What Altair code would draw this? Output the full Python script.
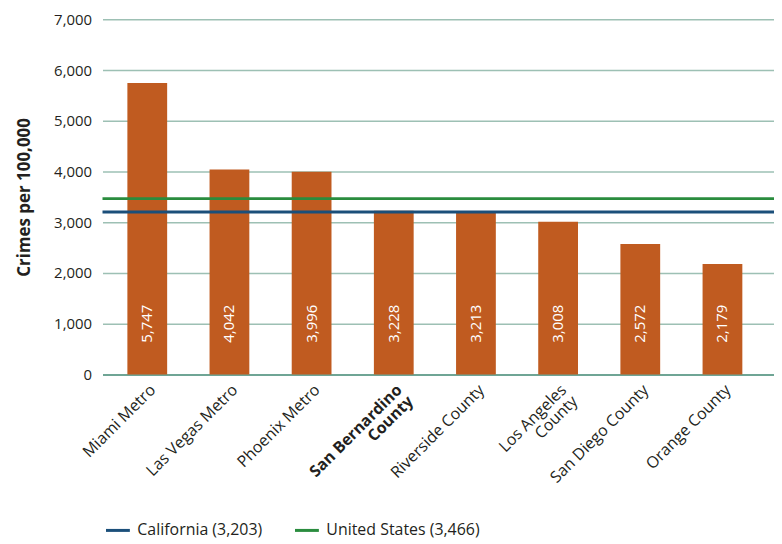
import altair as alt
import pandas as pd

categories = ["Miami Metro", "Las Vegas Metro", "Phoenix Metro", "San Bernardino County",
              "Riverside County", "Los Angeles County", "San Diego County", "Orange County"]
crime_rates = [5747, 4042, 3996, 3228, 3213, 3008, 2572, 2179]
ref_names = ["California (3,203)", "United States (3,466)"]
ref_values = [3203, 3466]
ref_colors = ["#1B4F7A", "#2A8C3E"]
y_ticks = [0, 1000, 2000, 3000, 4000, 5000, 6000, 7000]

bars_df = pd.DataFrame({"area": categories, "rate": crime_rates,
                        "label": [f"{v:,}" for v in crime_rates]})
ref_df = pd.DataFrame({"series": ref_names, "value": ref_values})

FONT = "Open Sans"
TXT = "#231F20"

x_enc = alt.X("area:N", sort=categories,
              scale=alt.Scale(paddingInner=0.516, paddingOuter=0.344, align=0.44),
              axis=alt.Axis(title=None, labelAngle=-45, labelAlign="right", labelBaseline="top",
                            labelFontSize=16, labelFont=FONT, labelColor=TXT, labelPadding=7,
                            labelLineHeight=16, ticks=False, domainColor="#6FA595", domainWidth=2,
                            grid=False,
                            labelExpr="datum.label == 'San Bernardino County' ? ['San Bernardino', 'County'] : datum.label == 'Los Angeles County' ? ['Los Angeles', 'County'] : datum.label",
                            labelFontWeight={"condition": {"test": "datum.value == 'San Bernardino County'", "value": "bold"}, "value": "normal"}))

y_scale = alt.Scale(domain=[0, 7000], nice=False)

bars = alt.Chart(bars_df).mark_bar(color="#C05B20").encode(
    x=x_enc,
    y=alt.Y("rate:Q", scale=y_scale,
            axis=alt.Axis(title="Crimes per 100,000", values=y_ticks, format=",d",
                          labelFontSize=15, labelFont=FONT, labelColor=TXT, labelPadding=11,
                          ticks=False, domain=False, gridColor="#9DC0B4", gridWidth=1.5,
                          titleFont=FONT, titleFontSize=17, titleFontWeight="bold",
                          titleColor=TXT, titlePadding=20)),
)

labels = alt.Chart(bars_df).mark_text(color="white", angle=270, align="center", baseline="middle",
                                      font=FONT, fontSize=15).encode(
    x=alt.X("area:N", sort=categories),
    y=alt.datum(1000),
    text="label:N",
)

rules = alt.Chart(ref_df).mark_rule(strokeWidth=3).encode(
    y=alt.Y("value:Q", scale=y_scale),
    color=alt.Color("series:N", scale=alt.Scale(domain=ref_names, range=ref_colors),
                    legend=alt.Legend(title=None, orient="none", legendX=2, legendY=500,
                                      direction="horizontal", symbolType="stroke",
                                      symbolSize=576, symbolStrokeWidth=3, labelFontSize=16,
                                      labelFont=FONT, labelColor=TXT, labelOffset=6,
                                      columnPadding=26)),
)

chart = alt.layer(bars, labels, rules).properties(
    width=675, height=357,
    autosize=alt.AutoSizeParams(type="none"),
    padding={"left": 95, "top": 10, "right": 0, "bottom": 165},
).configure_view(stroke=None)

chart.save("out.html", embed_options={"renderer": "svg", "actions": False})
